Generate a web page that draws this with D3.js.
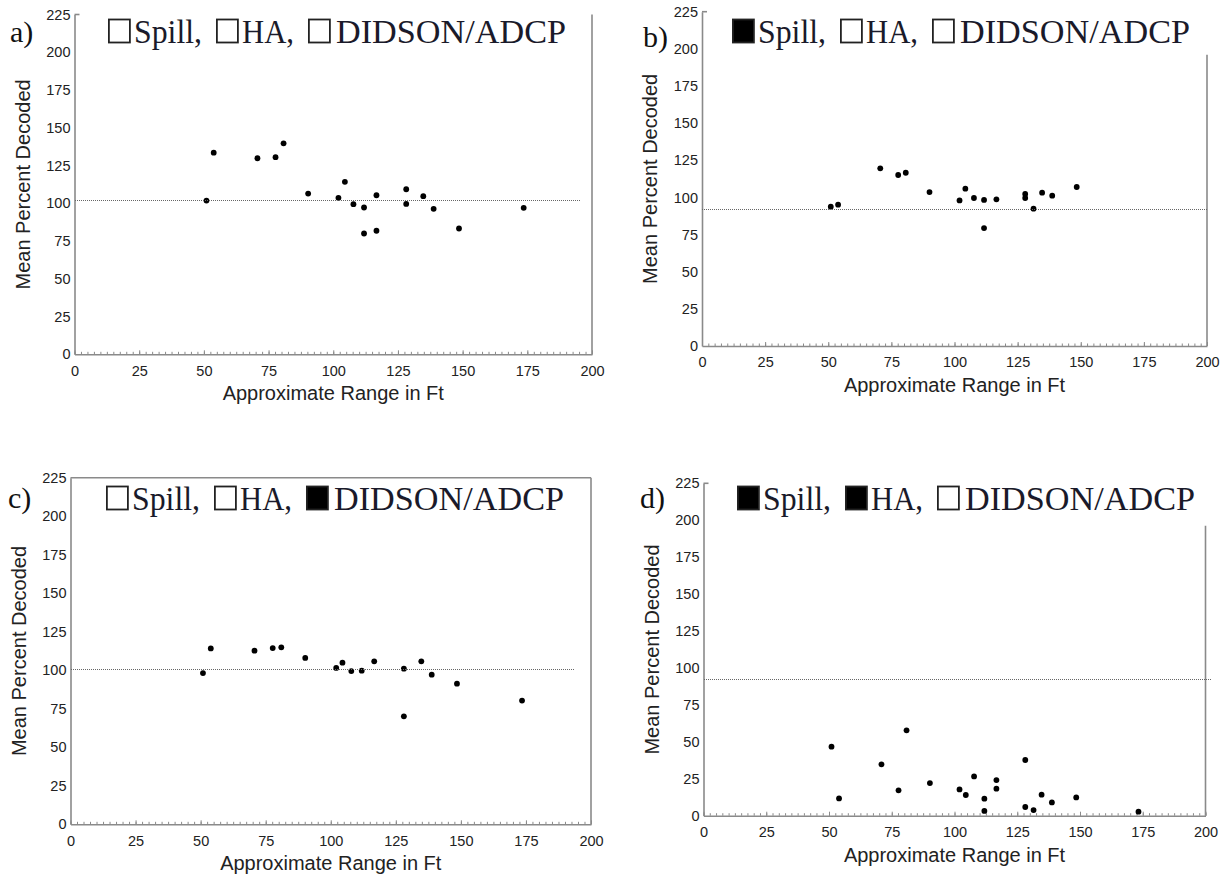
<!DOCTYPE html>
<html>
<head>
<meta charset="utf-8">
<script src="https://cdn.jsdelivr.net/npm/d3@7"></script>
<style>
  html, body { margin: 0; padding: 0; background: #fff; }
  svg { display: block; }
</style>
</head>
<body>
<svg id="chart" width="1222" height="880"></svg>
<script>
// ---------------- DATA ----------------
const xTicks = [0, 25, 50, 75, 100, 125, 150, 175, 200];
const yTicks = [0, 25, 50, 75, 100, 125, 150, 175, 200, 225];
const legendNames = ["Spill,", "HA,", "DIDSON/ADCP"];
const panelLabels = ["a)", "b)", "c)", "d)"];
const xTitle = "Approximate Range in Ft";
const yTitle = "Mean Percent Decoded";

const rangeA = [51, 53.8, 70.7, 77.7, 80.8, 90.3, 102, 104.5, 107.8, 111.9, 111.9, 116.7, 116.7, 128.2, 128.2, 134.8, 138.8, 148.6, 173.6];
const pctA   = [101.8, 133.5, 129.8, 130.5, 139.7, 106.4, 103.6, 114.2, 99.4, 97.2, 80.0, 105.3, 81.8, 109.3, 99.6, 104.7, 96.3, 83.3, 97.0];

const rangeB = [51, 53.9, 70.6, 77.7, 80.7, 90.1, 102, 104.3, 107.7, 111.7, 111.7, 116.6, 128, 128, 131.3, 134.7, 138.7, 148.4];
const pctB   = [93.8, 95.1, 119.6, 115.1, 116.6, 103.6, 98.0, 105.9, 99.6, 98.3, 79.4, 98.7, 102.3, 99.6, 92.4, 103.2, 101.2, 107.0];

const rangeC = [50.9, 53.9, 70.7, 77.7, 81, 90.2, 102.1, 104.5, 107.9, 111.9, 116.7, 128.1, 128.1, 134.8, 138.8, 148.5, 173.5];
const pctC   = [98.2, 114.2, 112.7, 114.4, 114.9, 108.0, 101.5, 104.9, 99.5, 99.7, 105.8, 101.0, 70.1, 105.8, 97.1, 91.3, 80.3];

const rangeD = [51, 54, 70.9, 77.7, 80.9, 90.2, 102, 104.5, 107.8, 111.9, 111.9, 116.7, 116.7, 128.2, 128.2, 131.5, 134.7, 138.8, 148.5, 173.3];
const pctD   = [46.7, 11.7, 34.8, 17.2, 57.8, 22.1, 17.8, 14.0, 26.6, 11.5, 3.2, 24.1, 18.3, 37.7, 5.9, 3.8, 14.2, 9.0, 12.4, 2.7];

const refValues = [102.0, 92.2, 101.0, 92.8];
const legendA = [false, false, false];
const legendB = [true, false, false];
const legendC = [false, false, true];
const legendD = [true, true, false];

// ---------------- LAYOUT ----------------
const panels = [
  { label: panelLabels[0], xs: rangeA, ys: pctA, ref: refValues[0], legend: legendA,
    px: [74.5, 592], py: [354.3, 14.5], refEnd: 195.6, topLine: false, rightTop: 225,
    labelPos: [10, 42], titleX: 108, titleY: 43 },
  { label: panelLabels[1], xs: rangeB, ys: pctB, ref: refValues[1], legend: legendB,
    px: [702, 1207], py: [346, 11.7], refEnd: 200, topLine: false, rightTop: 196,
    labelPos: [643, 47], titleX: 732, titleY: 43 },
  { label: panelLabels[2], xs: rangeC, ys: pctC, ref: refValues[2], legend: legendC,
    px: [70.5, 591], py: [824.3, 477.7], refEnd: 194, topLine: true, rightTop: 225,
    labelPos: [8, 508], titleX: 106, titleY: 510 },
  { label: panelLabels[3], xs: rangeD, ys: pctD, ref: refValues[3], legend: legendD,
    px: [703.5, 1205.5], py: [815.7, 483.3], refEnd: 202.6, topLine: false, rightTop: 196.3,
    labelPos: [640, 508], titleX: 737, titleY: 510 }
];

const svg = d3.select("#chart");
const sans = "'Liberation Sans', Arial, Helvetica, sans-serif";
const serif = "'Liberation Serif', 'Times New Roman', Times, serif";
const axisColor = "#8a8a8a";
const textColor = "#222";

panels.forEach(p => {
  const g = svg.append("g");
  const x = d3.scaleLinear().domain([0, 200]).range(p.px);
  const y = d3.scaleLinear().domain([0, 225]).range(p.py);

  // minor ticks on x axis
  const minor = g.append("g")
    .attr("transform", `translate(0,${y(0)})`)
    .call(d3.axisBottom(x).tickValues(d3.range(0, 200.01, 2.5)).tickSizeInner(-2.5).tickSizeOuter(0).tickFormat(""));
  minor.select(".domain").remove();
  minor.selectAll("line").attr("stroke", axisColor).attr("stroke-width", 1);

  // x axis
  const xa = g.append("g")
    .attr("transform", `translate(0,${y(0)})`)
    .call(d3.axisBottom(x).tickValues(xTicks).tickSizeInner(-4).tickSizeOuter(0).tickPadding(11));
  xa.select(".domain").attr("stroke", axisColor).attr("stroke-width", 1.6);
  xa.selectAll("line").attr("stroke", axisColor).attr("stroke-width", 1);
  xa.selectAll("text").attr("font-family", sans).attr("font-size", 14.5).attr("fill", textColor);

  // y axis
  const ya = g.append("g")
    .attr("transform", `translate(${x(0)},0)`)
    .call(d3.axisLeft(y).tickValues(yTicks).tickSizeInner(0).tickSizeOuter(0).tickPadding(4));
  ya.select(".domain").attr("stroke", axisColor).attr("stroke-width", 1.6);
  ya.selectAll("text").attr("font-family", sans).attr("font-size", 14.5).attr("fill", textColor);

  // frame: top stub / top line, right border
  g.append("line")
    .attr("x1", x(0)).attr("x2", p.topLine ? x(200) : x(0) + 5)
    .attr("y1", y(225)).attr("y2", y(225))
    .attr("stroke", axisColor).attr("stroke-width", 1.6);
  g.append("line")
    .attr("x1", x(200)).attr("x2", x(200))
    .attr("y1", y(p.rightTop)).attr("y2", y(0))
    .attr("stroke", axisColor).attr("stroke-width", 1.6);

  // points
  const pts = p.xs.map((v, i) => ({ x: v, y: p.ys[i] }));
  g.append("g").selectAll("circle").data(pts).join("circle")
    .attr("cx", d => x(d.x)).attr("cy", d => y(d.y))
    .attr("r", 2.9).attr("fill", "#000");

  // reference line (dotted, drawn over points, snapped to pixel grid)
  const ry = Math.round(y(p.ref)) + 0.5;
  g.append("line")
    .attr("x1", Math.round(x(0))).attr("x2", x(p.refEnd))
    .attr("y1", ry).attr("y2", ry)
    .attr("stroke", "#666").attr("stroke-width", 1.3)
    .attr("stroke-dasharray", "1,1")
    .attr("shape-rendering", "crispEdges");

  // axis titles
  g.append("text")
    .attr("x", (x(0) + x(200)) / 2).attr("y", y(0) + 46)
    .attr("text-anchor", "middle")
    .attr("font-family", sans).attr("font-size", 20).attr("fill", textColor)
    .text(xTitle);
  const cy = (y(0) + y(225)) / 2;
  g.append("text")
    .attr("transform", `translate(${x(0) - 45},${cy}) rotate(-90)`)
    .attr("text-anchor", "middle")
    .attr("font-family", sans).attr("font-size", 20).attr("fill", textColor)
    .text(yTitle);

  // panel label
  g.append("text")
    .attr("x", p.labelPos[0]).attr("y", p.labelPos[1])
    .attr("font-family", serif).attr("font-size", 30).attr("fill", "#111")
    .text(p.label);

  // legend-like title
  const boxOffsets = [0, 108, 200];
  const textOffsets = [26, 134, 228];
  const textWidths = [68, 52, 230];
  const t = g.append("g").attr("transform", `translate(${p.titleX},${p.titleY})`);
  legendNames.forEach((name, i) => {
    t.append("rect")
      .attr("x", boxOffsets[i] + 0.9).attr("y", -23.5)
      .attr("width", 21).attr("height", 23)
      .attr("fill", p.legend[i] ? "#000" : "#fff")
      .attr("stroke", "#222").attr("stroke-width", 1.8);
    t.append("text")
      .attr("x", textOffsets[i]).attr("y", 0)
      .attr("font-family", serif).attr("font-size", 33).attr("fill", "#1a1a2a")
      .attr("textLength", textWidths[i]).attr("lengthAdjust", "spacingAndGlyphs")
      .text(name);
  });
});
</script>
</body>
</html>
